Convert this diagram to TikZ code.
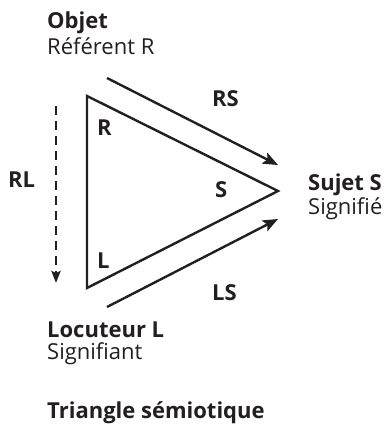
\documentclass[tikz,border=0pt]{standalone}
\usepackage{fontspec}
\setmainfont{Open Sans}
\usetikzlibrary{arrows.meta}
\definecolor{ink}{HTML}{231F20}

\begin{document}
\begin{tikzpicture}[x=1pt,y=-1pt,
    every node/.style={ink,inner sep=0pt,anchor=base west,font=\fontsize{22}{26}\selectfont},
    bord/.style={ink,line width=2.4pt},
    fleche/.style={bord,-{Stealth[length=15pt,width=12pt,inset=3pt]}},
    titre/.style={font=\fontsize{22}{26}\selectfont\bfseries}]

    \useasboundingbox (0,0) rectangle (387,426);

	% sommets du triangle
	\coordinate (R) at (87,96);
	\coordinate (S) at (278,191);
	\coordinate (L) at (87,288);

	% extremites des fleches
	\coordinate (rs1) at (107,78);
	\coordinate (rs2) at (278,165);
	\coordinate (ls1) at (107,307);
	\coordinate (ls2) at (278,219);
	\coordinate (rl1) at (56,106);
	\coordinate (rl2) at (56,283);

    \draw [bord,line join=miter] (R) -- (S) -- (L) -- cycle;
    \draw [fleche] (rs1) -- (rs2);
    \draw [fleche] (ls1) -- (ls2);
    \draw [bord,dash pattern=on 9pt off 6pt,-{Stealth[length=12pt,width=9pt,inset=2pt]}] (rl1) -- (rl2);

	 \node[titre] (rR) at (97,135) {R};
	 \node[titre] (sS) at (215,197) {S};
	 \node[titre] (lL) at (97,268) {L};
	 \node[titre] (rs) at (212,106) {RS};
	 \node[titre] (ls) at (212,300) {LS};
	 \node[titre] (rl) at (8,187) {RL};

	 \node[titre] (objet) at (47,28) {Objet};
	 \node (referent) at (47,54) {Référent R};
	 \node[titre] (sujet) at (308,190) {Sujet S};
	 \node (signifie) at (308,214) {Signifié};
	 \node[titre] (locuteur) at (47,337) {Locuteur L};
	 \node (signifiant) at (47,359) {Signifiant};
	 \node[titre] (legende) at (47,418) {Triangle sémiotique};
\end{tikzpicture}
\end{document}
